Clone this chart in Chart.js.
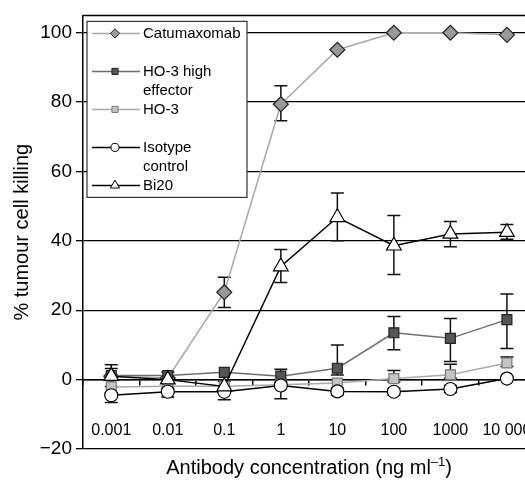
<!DOCTYPE html>
<html lang="en">
<head>
<meta charset="UTF-8">
<title>Tumour cell killing</title>
<script src="https://cdn.jsdelivr.net/npm/chart.js@4.4.1/dist/chart.umd.min.js"></script>
<style>
    html, body { margin: 0; padding: 0; background: #fff; overflow: hidden; }
    #div_grafico { width: 568px; height: 481px; }
</style>
</head>
<body>
<div id="div_grafico"><canvas id="canvas_grafico" width="568" height="481"></canvas></div>
<script>
    // x categories (ng/ml) and y ticks
    const concentrations = ['0.001', '0.01', '0.1', '1', '10', '100', '1000', '10 000'];
    const yTicks = [-20, 0, 20, 40, 60, 80, 100];

    // series names as they appear in the legend
    const legendLines = [['Catumaxomab'], ['HO-3 high', 'effector'], ['HO-3'], ['Isotype', 'control'], ['Bi20']];

    // % tumour cell killing
    const catumaxomab = [1, 0.5, 25.2, 79.4, 95.1, 100, 100, 99.4];
    const ho3High = [1.2, 1.2, 2.1, 1, 3.3, 13.5, 11.9, 17.3];
    const ho3 = [-2.1, -1.9, -1.9, -1.5, -1, 0.3, 1.4, 4.8];
    const isotype = [-4.5, -3.5, -3.5, -1.7, -3.4, -3.5, -2.7, 0.3];
    const bi20 = [1, 0, -2, 32.6, 46.8, 38.6, 42, 42.5];

    // error bars as [minus, plus]
    const catumaxomabErr = [null, null, [4.4, 4.3], [4.8, 5.3], null, null, null, null];
    const ho3HighErr = [[1, 2], [1, 1], null, [1, 2], [2, 6.7], [4.9, 4.7], [6.7, 5.7], [8.3, 7.4]];
    const ho3Err = [null, null, null, null, null, [1, 2.3], [1, 3], [1, 1.7]];
    const isotypeErr = [[2.1, 0.7], [1.5, 1], [2.3, 1], [3.8, 1], [1, 1], [1, 1], [1, 1], null];
    const bi20Err = [[3, 3.3], [1, 1], [1.5, 1.5], [4.6, 4.9], [6.8, 7], [8.3, 8.7], [3.7, 3.6], [2, 2.2]];

    const fonte = "'Liberation Sans', Arial, Helvetica, sans-serif";
    Chart.defaults.font.family = fonte;
    Chart.defaults.color = '#000';

    function serie(i, data, err, linha, fundo, borda, estilo, raio) {
        return {
            label: legendLines[i].join(' '),
            data: data,
            err: err,
            order: 5 - i,
            borderColor: linha,
            borderWidth: 1.5,
            pointStyle: estilo,
            pointRadius: raio,
            pointHoverRadius: raio,
            pointBackgroundColor: fundo,
            pointBorderColor: borda,
            pointBorderWidth: 1.2,
            tension: 0
        };
    }

    const errorBars = {
        id: 'errorBars',
        beforeDatasetsDraw(chart) {
            const { ctx, scales: { x, y } } = chart;
            ctx.save();
            ctx.strokeStyle = '#111';
            ctx.lineWidth = 1.5;
            chart.data.datasets.forEach(ds => {
                ds.err.forEach((e, j) => {
                    if (!e) return;
                    const px = x.getPixelForValue(j);
                    const lo = y.getPixelForValue(ds.data[j] - e[0]);
                    const hi = y.getPixelForValue(ds.data[j] + e[1]);
                    ctx.beginPath();
                    ctx.moveTo(px, lo); ctx.lineTo(px, hi);
                    ctx.moveTo(px - 6.5, lo); ctx.lineTo(px + 6.5, lo);
                    ctx.moveTo(px - 6.5, hi); ctx.lineTo(px + 6.5, hi);
                    ctx.stroke();
                });
            });
            ctx.restore();
        }
    };

    const moldura = {
        id: 'moldura',
        afterDraw(chart) {
            const { ctx, chartArea: a } = chart;
            ctx.save();
            // top border
            ctx.strokeStyle = '#000';
            ctx.lineWidth = 1.5;
            ctx.beginPath();
            ctx.moveTo(a.left, a.top);
            ctx.lineTo(a.right, a.top);
            ctx.stroke();

            // legend box
            const x0 = a.left + 4, y0 = a.top + 6;
            ctx.fillStyle = '#fff';
            ctx.fillRect(x0, y0, 160, 176);
            ctx.strokeStyle = '#333';
            ctx.lineWidth = 1.2;
            ctx.strokeRect(x0, y0, 160, 176);
            ctx.font = '15px ' + fonte;
            ctx.textBaseline = 'middle';
            chart.data.datasets.forEach((ds, i) => {
                const yy = y0 + 12 + 38 * i;
                ctx.strokeStyle = ds.borderColor;
                ctx.lineWidth = 1.5;
                ctx.beginPath();
                ctx.moveTo(x0 + 5, yy);
                ctx.lineTo(x0 + 53, yy);
                ctx.stroke();
                ctx.fillStyle = ds.pointBackgroundColor;
                ctx.strokeStyle = ds.pointBorderColor;
                ctx.lineWidth = 1;
                Chart.helpers.drawPoint(ctx, { pointStyle: ds.pointStyle, radius: ds.pointRadius * 0.62, rotation: 0, borderWidth: 1 }, x0 + 28, yy);
                ctx.fillStyle = '#000';
                legendLines[i].forEach((t, k) => ctx.fillText(t, x0 + 56, yy + 19 * k));
            });

            // x axis title with superscript
            const cx = (a.left + a.right) / 2, ty = 468;
            const base = 'Antibody concentration (ng ml', sup = '\u20131', fim = ')';
            ctx.font = '20px ' + fonte;
            const w1 = ctx.measureText(base).width, w3 = ctx.measureText(fim).width;
            ctx.font = '13px ' + fonte;
            const w2 = ctx.measureText(sup).width;
            let sx = cx - (w1 + w2 + w3) / 2;
            ctx.textAlign = 'left';
            ctx.font = '20px ' + fonte;
            ctx.fillText(base, sx, ty);
            ctx.font = '13px ' + fonte;
            ctx.fillText(sup, sx + w1, ty - 6);
            ctx.font = '20px ' + fonte;
            ctx.fillText(fim, sx + w1 + w2, ty);
            ctx.restore();
        }
    };

    const ctx = document.getElementById('canvas_grafico').getContext('2d');
    const myChart = new Chart(ctx, {
        type: 'line',
        data: {
            labels: concentrations,
            datasets: [
                serie(0, catumaxomab, catumaxomabErr, '#a8a8a8', '#999999', '#222', 'rectRot', 7.5),
                serie(1, ho3High, ho3HighErr, '#6e6e6e', '#555555', '#222', 'rect', 7),
                serie(2, ho3, ho3Err, '#aaaaaa', '#c4c4c4', '#777', 'rect', 7),
                serie(3, isotype, isotypeErr, '#000000', '#ffffff', '#000', 'circle', 6.5),
                serie(4, bi20, bi20Err, '#000000', '#ffffff', '#000', 'triangle', 8.5)
            ]
        },
        options: {
            responsive: false,
            animation: false,
            devicePixelRatio: 1,
            layout: { padding: { top: 15, bottom: 32, left: 0, right: 9 } },
            plugins: {
                legend: { display: false },
                tooltip: { enabled: false }
            },
            scales: {
                x: {
                    type: 'category',
                    offset: true,
                    position: { y: 0 },
                    grid: { drawOnChartArea: false, drawTicks: true, tickLength: 5, offset: true, color: '#000', lineWidth: 1.5 },
                    border: { display: true, color: '#000', width: 1.5 },
                    ticks: { padding: 36, autoSkip: false, maxRotation: 0, font: { size: 16 }, color: '#000' }
                },
                y: {
                    min: -20,
                    max: 105,
                    afterBuildTicks: s => { s.ticks = yTicks.map(v => ({ value: v })); },
                    afterFit: s => { s.width = 83; },
                    grid: { color: '#000', lineWidth: 1.3, tickLength: 7 },
                    border: { display: true, color: '#000', width: 1.5 },
                    ticks: { font: { size: 19 }, color: '#000', padding: 4, callback: v => String(v).replace('-', '\u2212') },
                    title: { display: true, text: '% tumour cell killing', font: { size: 20 }, color: '#000', padding: { top: 10, bottom: 4 } }
                }
            }
        },
        plugins: [errorBars, moldura]
    });
</script>
</body>
</html>
